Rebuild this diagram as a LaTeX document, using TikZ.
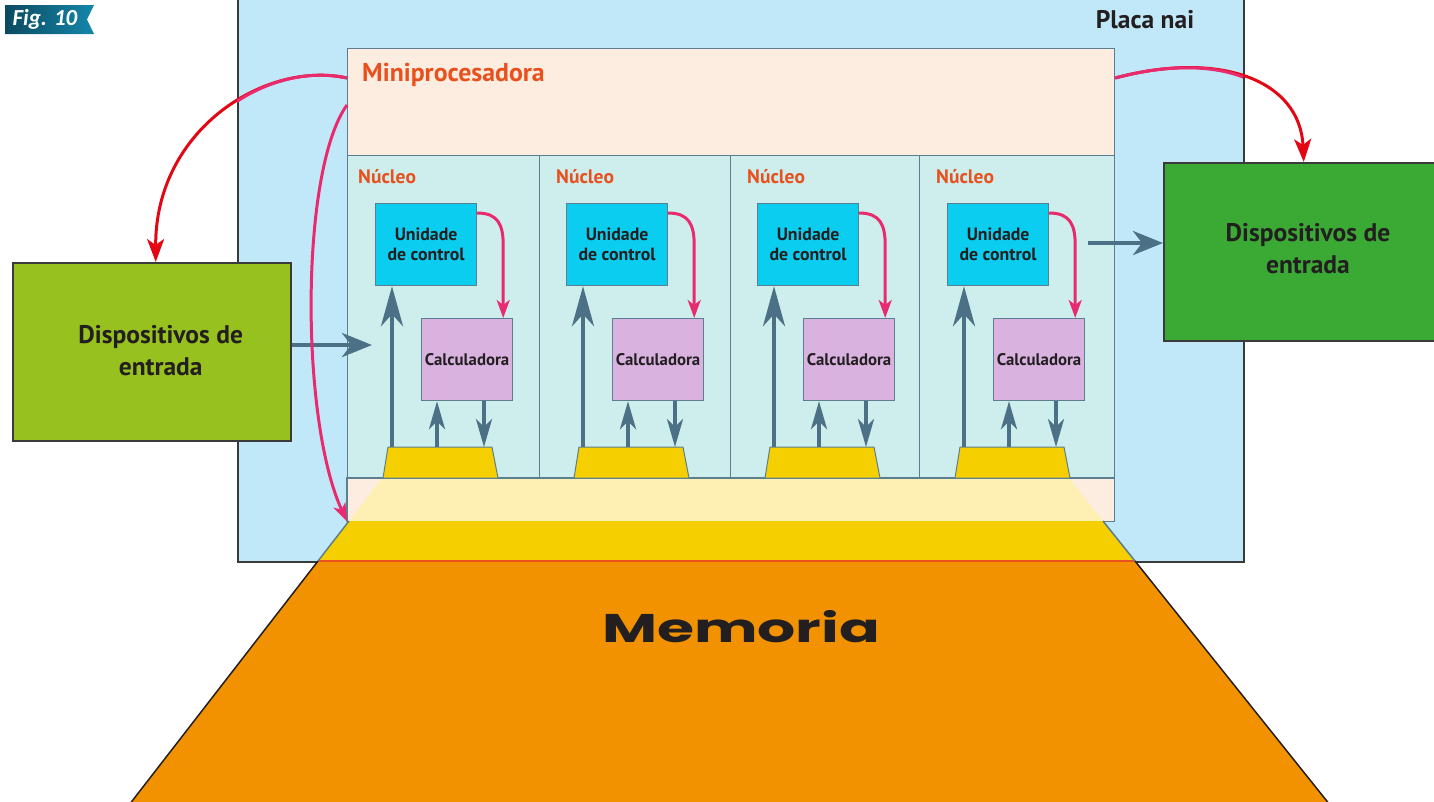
\documentclass[tikz,border=0pt]{standalone}
\usepackage{fontspec}
\setmainfont{PT Sans}
\newfontfamily\figfont{Carlito}
\newfontfamily\memfont{Poppins}
\usetikzlibrary{arrows.meta}
\definecolor{placa}{HTML}{C1E8F9}
\definecolor{placaline}{HTML}{3A3A3A}
\definecolor{peach}{HTML}{FDEDE0}
\definecolor{paleyel}{HTML}{FEF0B2}
\definecolor{corebg}{HTML}{CDEEEC}
\definecolor{frame}{HTML}{5C7F90}
\definecolor{steel}{HTML}{4C7086}
\definecolor{ucol}{HTML}{0BCDF0}
\definecolor{calc}{HTML}{D9B2E0}
\definecolor{gold}{HTML}{F6CF00}
\definecolor{orng}{HTML}{F29200}
\definecolor{redorange}{HTML}{E8501E}
\definecolor{pinkc}{HTML}{EA2A6E}
\definecolor{redc}{HTML}{E30613}
\definecolor{lgreen}{HTML}{97C11F}
\definecolor{dgreen}{HTML}{3BAA35}
\definecolor{txt}{HTML}{231F20}
\definecolor{figdark}{HTML}{0B4A60}
\definecolor{figlight}{HTML}{1487AA}
\tikzset{
  boxbase/.style={draw=frame, line width=1.2pt, anchor=north west, inner sep=0pt},
  lbl/.style={font=\bfseries\fontsize{17.8}{20}\selectfont, text=txt, align=center},
  clbl/.style={font=\bfseries\fontsize{16.8}{20}\selectfont, text=txt, align=center},
  bigtxt/.style={font=\bfseries\fontsize{25.5}{32}\selectfont, text=txt, align=center},
  nucleo/.style={font=\bfseries\fontsize{19.5}{22}\selectfont, text=redorange, anchor=west, inner sep=0pt},
  greenbox/.style={draw=placaline, line width=1.5pt, anchor=north west, inner sep=0pt},
  bigup/.style={draw=steel, line width=4pt, -{Stealth[length=40pt,width=22pt,inset=12pt]}},
  sarrow/.style={draw=steel, line width=4pt, -{Stealth[length=28pt,width=16pt,inset=8pt]}},
  harrow/.style={draw=steel, line width=4pt, -{Stealth[length=30pt,width=24pt,inset=9pt]}},
  parrow/.style={draw=pinkc, line width=3pt, -{Stealth[length=18pt,width=13pt,inset=5pt]}},
  rarrow/.style={draw=redc, line width=3pt, -{Stealth[length=23pt,width=17pt,inset=6pt]}},
  pinkline/.style={draw=pinkc, line width=3pt}
}
\begin{document}
\begin{tikzpicture}[x=1pt,y=-1pt]
\useasboundingbox (0,0) rectangle (1434,801);
\begin{scope}
\clip (0,0) rectangle (1434,801);
% board
\node[draw=placaline, fill=placa, line width=1.5pt, anchor=north west, inner sep=0pt,
      minimum width=1006pt, minimum height=571pt] (placa) at (237,-10) {};
\node[font=\bfseries\fontsize{25.5}{28}\selectfont, text=txt] (placalbl) at (1145,20) {Placa nai};
% fig label
\shade[left color=figdark, right color=figlight] (5,5) -- (94,5) -- (87,19.5) -- (94,34) -- (5,34) -- cycle;
\node[text=white, font=\figfont\bfseries\itshape\fontsize{23}{23}\selectfont] (fig) at (45,19) {Fig. 10};
% processor
\node[boxbase, fill=peach, minimum width=767pt, minimum height=107pt] (mini) at (347,48) {};
\node[font=\bfseries\fontsize{25.8}{28}\selectfont, text=redorange, anchor=west, inner sep=0pt] (minilbl) at (362,75) {Miniprocesadora};
\foreach \i/\xa/\w in {1/347/192,2/539/191,3/730/189,4/919/195}
  \node[boxbase, fill=corebg, minimum width=\w pt, minimum height=323pt] (col\i) at (\xa,155) {};
\node[anchor=north west, inner sep=0pt, fill=peach, minimum width=767pt, minimum height=43pt] (strip) at (347,478) {};
\fill[paleyel] (382,478) -- (1069,478) -- (1103,521) -- (349,521) -- cycle;
\draw[frame, line width=1.2pt] (strip.north west) rectangle (strip.south east);
% memory
\fill[gold] (349,521) -- (1103,521) -- (1135,561) -- (318,561) -- cycle;
\fill[orng] (318,561) -- (1135,561) -- (1330,805) -- (129,805) -- cycle;
\draw[redorange, line width=1.5pt] (318,561) -- (1135,561);
\draw[frame, line width=1.5pt] (349,521) -- (318,561);
\draw[frame, line width=1.5pt] (1103,521) -- (1135,561);
\draw[txt, line width=1.5pt] (318,561) -- (129,805);
\draw[txt, line width=1.5pt] (1135,561) -- (1330,805);
\node[font=\memfont\bfseries\fontsize{40}{40}\selectfont, text=txt] (mem) at (741,627) {\scalebox{1.5}[1]{Memoria}};
% cores
\foreach \i/\dx/\nx in {1/0/358,2/191/556,3/382/747,4/572/936}{
  \node[nucleo] (nl\i) at (\nx,177) {Núcleo};
  \node[boxbase, fill=ucol, minimum width=101pt, minimum height=82pt, lbl] (u\i) at (375+\dx,203) {Unidade\\de control};
  \node[boxbase, fill=calc, minimum width=91pt, minimum height=82pt, clbl] (c\i) at (421+\dx,318) {Calculadora};
  \filldraw[fill=gold, draw=frame, line width=1pt] (388+\dx,447) -- (492+\dx,447) -- (498+\dx,478) -- (383+\dx,478) -- cycle;
  \coordinate (bu\i) at (392+\dx,447);
  \coordinate (bc\i) at (437+\dx,447);
  \coordinate (bd\i) at (484+\dx,447);
  \draw[bigup] (bu\i) -- (bu\i |- u\i.south);
  \draw[sarrow] (bc\i) -- (bc\i |- c\i.south);
  \draw[sarrow] (bd\i |- c\i.south) -- (bd\i);
  \coordinate (us\i) at ([yshift=-10pt]u\i.north east);
  \coordinate (ct\i) at ([xshift=-10pt]c\i.north east);
  \coordinate (cm\i) at ([yshift=73pt]ct\i);
  \draw[parrow] (us\i) .. controls +(21,0) and +(0,-20) .. (cm\i) -- (ct\i);
}
% external boxes
\node[greenbox, fill=lgreen, minimum width=278pt, minimum height=178pt] (lbox) at (12,262) {};
\node[bigtxt] (ltxt) at ([xshift=9pt,yshift=1pt]lbox.center) {Dispositivos de\\entrada};
\node[greenbox, fill=dgreen, minimum width=280pt, minimum height=178pt] (rbox) at (1163,162) {};
\node[bigtxt] (rtxt) at (1308,249) {Dispositivos de\\entrada};
% steel arrows
\coordinate (le) at (372,345);
\draw[harrow] (lbox.east |- le) -- (le);
\coordinate (rs) at (1088,243);
\draw[harrow] (rs) -- (rs -| rbox.west);
% red / pink arrows
\coordinate (ra) at ([yshift=-30pt]mini.north west);
\coordinate (rb) at ([yshift=-57pt]mini.north west);
\coordinate (rc) at ([yshift=-30pt]mini.north east);
\coordinate (lt) at ([xshift=4pt]lbox.north);
\draw[rarrow] (ra) .. controls (265,60) and (155,130) .. (lt);
\draw[rarrow] (rc) .. controls (1220,50) and (1300,80) .. (rbox.north);
\begin{scope}
  \clip (237,0) rectangle (1243,561);
  \draw[pinkline] (ra) .. controls (265,60) and (155,130) .. (lt);
  \draw[pinkline] (rc) .. controls (1220,50) and (1300,80) .. (rbox.north);
\end{scope}
\draw[parrow] (rb) .. controls (300,170) and (300,420) .. (strip.south west);
\end{scope}
\end{tikzpicture}
\end{document}
